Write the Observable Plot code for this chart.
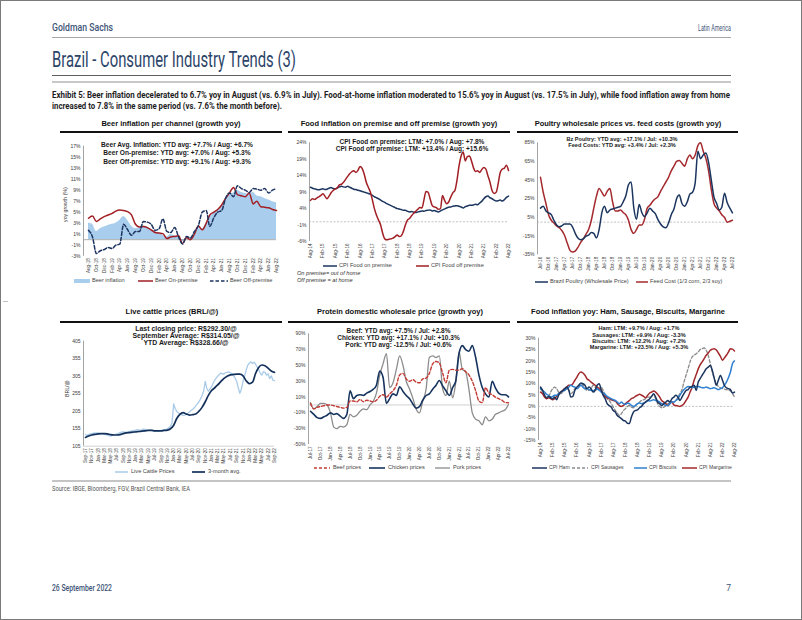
<!DOCTYPE html>
<html><head><meta charset="utf-8">
<script src="https://cdn.jsdelivr.net/npm/d3@7"></script>
<script src="https://cdn.jsdelivr.net/npm/@observablehq/plot@0.6"></script>
<style>
html,body{margin:0;padding:0;background:#fff;}
#page{position:relative;width:802px;height:620px;overflow:hidden;background:#fff;}
.t{position:absolute;white-space:nowrap;line-height:1;}
</style></head>
<body><div id="page"></div>
<script>
// ---------------- DATA ----------------
// Chart 1: Beer inflation per channel (monthly from Aug-18)
const beerStart = "Aug-18";
const beerInflation = [3.0,2.8,1.5,2.0,2.3,2.6,2.8,3.0,3.5,4.2,3.5,2.5,2.0,2.2,2.5,2.3,1.8,1.5,1.2,0.8,0.5,1.0,0.7,0.6,-0.4,0.2,0.0,0.8,2.0,2.0,3.0,4.0,4.8,5.2,6.0,7.0,8.0,8.5,9.0,8.6,8.4,8.2,8.6,8.0,7.8,7.5,7.2,6.9,6.7];
const beerOnPremise = [3.9,4.3,3.3,3.8,4.2,4.5,4.8,5.2,5.4,5.3,5.1,4.5,2.8,2.3,2.4,2.2,1.8,1.3,1.2,1.1,0.2,0.5,0.6,0.7,-0.7,0.4,0.0,1.0,2.5,1.8,3.0,4.5,5.0,5.5,6.3,7.5,8.5,9.5,8.2,8.0,7.8,8.5,6.5,7.0,6.0,5.9,5.8,5.5,5.3];
const beerOffPremise = [1.7,0.5,-2.5,-2.0,-1.8,-1.4,-1.6,-1.0,-0.8,2.8,1.8,0.8,1.5,1.5,3.3,3.2,2.8,1.7,2.0,3.8,1.5,1.3,2.2,0.5,-0.8,0.6,0.3,1.5,2.5,5.0,5.3,2.4,4.0,5.0,5.3,7.5,8.5,7.8,9.8,9.3,9.0,8.6,9.3,9.2,9.0,9.3,8.5,9.0,9.3];
const beerYTicks = [-3,-1,1,3,5,7,9,11,13,15,17];
const beerXTicks = ["Aug-18","Oct-18","Dec-18","Feb-19","Apr-19","Jun-19","Aug-19","Oct-19","Dec-19","Feb-20","Apr-20","Jun-20","Aug-20","Oct-20","Dec-20","Feb-21","Apr-21","Jun-21","Aug-21","Oct-21","Dec-21","Feb-22","Apr-22","Jun-22","Aug-22"];

// Chart 2: Food inflation on/off premise (monthly from Aug-14)
const foodStart = "Aug-14";
const foodOnPremise = [10.5,10.2,10.0,9.8,9.7,9.9,10.0,9.8,9.9,10.2,10.4,10.1,10.0,10.3,10.6,10.8,10.6,10.5,10.8,10.5,10.2,9.9,9.8,9.6,9.4,9.2,9.0,8.8,8.6,8.4,8.0,7.6,7.3,7.0,6.6,6.2,5.9,5.5,5.2,4.9,4.6,4.3,4.0,3.9,3.7,3.5,3.5,3.2,3.0,3.1,2.9,2.8,3.0,3.1,3.3,3.2,3.4,3.5,3.6,3.3,3.4,3.2,3.0,3.3,3.6,3.9,4.2,4.4,4.5,4.7,4.8,4.9,4.7,4.5,4.2,4.6,4.8,5.0,5.0,5.1,5.3,5.2,5.7,6.2,7.0,7.6,7.8,7.3,7.0,6.6,6.3,6.4,6.6,6.3,6.7,7.4,7.8];
const foodOffPremise = [6.5,7.0,6.8,7.2,7.6,8.0,8.5,7.8,7.0,7.8,8.8,9.5,10.0,10.3,11.2,11.4,12.0,12.9,13.8,14.6,15.2,15.5,15.0,15.6,16.8,16.2,14.5,12.0,10.5,9.0,6.5,4.0,2.0,0.5,-1.0,-3.5,-5.2,-5.5,-5.3,-5.2,-5.0,-4.5,-4.0,-4.5,-4.3,-3.0,-1.0,0.5,1.0,1.8,2.6,3.2,3.8,4.3,4.2,6.5,9.2,9.0,7.0,5.0,4.5,4.3,3.8,4.0,8.0,6.5,5.5,6.0,7.5,8.8,9.5,12.5,17.0,20.0,21.2,18.5,19.8,20.0,18.5,16.5,15.3,15.5,15.0,15.8,16.5,16.0,14.0,12.0,9.5,8.6,9.0,11.5,15.0,16.0,16.3,17.2,15.6];
const foodYTicks = [-6,-1,4,9,14,19,24];
const foodXTicks = ["Aug-14","Feb-15","Aug-15","Feb-16","Aug-16","Feb-17","Aug-17","Feb-18","Aug-18","Feb-19","Aug-19","Feb-20","Aug-20","Feb-21","Aug-21","Feb-22","Aug-22"];

// Chart 3: Poultry vs feed costs (monthly from Jul-16)
const poultryStart = "Jul-16";
const poultryPrice = [15,17,12,10,8,2,-3,-5,-4,-2,-2,-2,-5,-12,-17,-19,-18,-15,-14,-11,-12,-17,-8,10,17,10,13,14,15,16,17,22,28,40,43,15,3,19,10,6,10,15,12,9,3,-2,-5,-6,-1,8,14,25,29,20,17,22,30,32,42,76,68,72,74,64,45,27,20,13,16,31,21,15,10];
const feedCost = [48,32,20,8,2,-1,-4,-6,-9,-14,-22,-30,-32,-31,-27,-22,-18,-13,-8,2,15,28,36,32,28,33,36,22,12,12,13,10,8,2,-8,-12,-8,-3,-3,3,15,18,22,25,27,33,38,43,48,55,60,65,66,63,60,68,72,68,72,82,85,76,68,55,35,20,15,12,8,5,0,1,2];
const poultryYTicks = [-35,-15,5,25,45,65,85];
const poultryXTicks = ["Jul-16","Oct-16","Jan-17","Apr-17","Jul-17","Oct-17","Jan-18","Apr-18","Jul-18","Oct-18","Jan-19","Apr-19","Jul-19","Oct-19","Jan-20","Apr-20","Jul-20","Oct-20","Jan-21","Apr-21","Jul-21","Oct-21","Jan-22","Apr-22","Jul-22"];

// Chart 4: Live cattle prices (semi-monthly prices and monthly 3-month average, from Sep-17)
const cattleStart = "Sep-17";
const cattlePrices = [138,136,138,140,141,142,142,143,143,142,141,140,139,138,137,135,134,136,138,139,
  140,142,144,145,146,145,145,146,147,148,149,150,151,152,151,150,152,154,153,151,
  150,151,151,150,149,148,148,149,150,151,152,153,155,158,162,172,226,212,204,200,
  197,195,193,194,196,199,203,207,210,214,220,226,232,240,250,262,290,270,262,268,
  275,285,294,300,305,310,314,311,312,315,316,317,315,312,306,300,290,272,256,268,
  290,306,322,336,342,346,341,345,340,332,324,314,308,318,316,308,312,298,306,294,292];
const cattleAvg3m = [130,134,137,139,140,141,141,140,138,137,137,138,141,143,144,145,146,147,148,149,150,150,149,149,149,150,151,155,165,185,196,201,197,194,195,197,205,216,232,250,264,272,280,290,299,305,309,310,311,311,306,292,284,288,312,330,337,335,328,320,316];
const cattleYTicks = [105,155,205,255,305,355,405];
const cattleXTicks = ["Sep-17","Nov-17","Jan-18","Mar-18","May-18","Jul-18","Sep-18","Nov-18","Jan-19","Mar-19","May-19","Jul-19","Sep-19","Nov-19","Jan-20","Mar-20","May-20","Jul-20","Sep-20","Nov-20","Jan-21","Mar-21","May-21","Jul-21","Sep-21","Nov-21","Jan-22","Mar-22","May-22","Jul-22","Sep-22"];

// Chart 5: Protein wholesale prices (monthly from Jul-17)
const proteinStart = "Jul-17";
const beefPrices = [2,-5,-3,-2,-1,0,0,-1,-2,-3,-4,-3,5,5,4,7,4,6,5,4,6,11,13,10,14,18,25,38,40,33,30,32,29,28,33,34,40,52,55,53,40,28,44,45,44,44,46,42,38,30,18,5,3,22,15,13,10,8,6,3,2.8];
const chickenPrices = [-8,-12,-16,-17,-15,-13,-10,-12,-11,-14,-17,-12,18,8,12,13,12,15,17,20,25,43,35,2,8,14,12,23,17,12,8,1,-4,-2,6,12,14,20,25,31,24,18,12,22,30,65,75,70,68,75,60,38,22,14,10,30,22,15,13,13,10.3];
const porkPrices = [3,-5,-2,2,2,0,-10,-28,-30,-27,-28,-25,-12,-15,-13,-8,-5,-6,0,5,15,38,52,65,22,28,45,62,50,30,20,8,-5,-10,5,20,60,62,60,62,20,12,30,9,28,67,45,42,20,-10,-18,-20,-25,-15,-20,-18,-12,-10,-8,-6,0.6];
const proteinYTicks = [-50,-30,-10,10,30,50,70,90];
const proteinXTicks = ["Jul-17","Oct-17","Jan-18","Apr-18","Jul-18","Oct-18","Jan-19","Apr-19","Jul-19","Oct-19","Jan-20","Apr-20","Jul-20","Oct-20","Jan-21","Apr-21","Jul-21","Oct-21","Jan-22","Apr-22","Jul-22"];

// Chart 6: CPI Ham, Sausages, Biscuits, Margarine (monthly from Aug-14)
const cpiStart = "Aug-14";
const cpiHam = [8.5,7.1,4.9,3.8,4.4,3.8,3.4,4.1,2.9,4.9,6.3,6.8,7.8,8.5,7.1,4.1,4.4,7.1,8.5,9.3,10.3,10.0,9.3,7.8,8.5,7.8,6.3,7.1,9.3,10.0,7.1,4.9,3.4,1.2,0.4,-0.3,-1.8,-2.5,-4.0,-4.7,-5.4,-6.2,-6.5,-7.4,-7.5,-4.7,-2.5,-1.8,-1.5,-0.6,0,1.2,1.9,2.6,3.4,4.4,5.6,4.1,1.9,1.2,0.4,1.2,1.9,2.6,1.9,3.4,4.1,4.9,4.1,2.6,4.1,5.6,7.0,7.4,8.5,8.8,9.3,7.0,10.7,12.2,13.7,15.1,16.6,17.3,18.0,15.8,12.2,9.3,11.5,13.7,11.5,9.3,8.2,7.8,7.4,5.9,6.3];
const cpiSausages = [7.8,6.3,4.9,3.4,4.1,6.3,7.8,8.5,7.8,6.3,5.6,6.3,7.1,7.8,7.1,5.6,6.3,7.8,8.5,9.3,10.0,9.3,7.8,7.1,7.1,7.8,9.3,8.5,7.1,7.8,8.5,7.1,4.9,3.4,2.6,1.2,-0.3,-1.8,-2.9,-4.0,-3.2,-1.8,-1.0,0,0.4,-0.3,-0.6,0.4,1.2,1.9,2.6,2.9,3.4,4.1,4.1,4.4,5.3,3.4,1.2,0,-0.6,-0.3,0.4,1.2,1.5,1.9,1.9,2.6,4.1,5.6,7.4,10.7,13.7,16.6,19.6,21.8,22.5,23.2,24.0,25.0,25.4,25.7,24.7,22.5,18.8,15.1,12.2,10.0,8.8,8.2,7.8,7.6,7.4,7.1,6.8,5.6,4.1];
const cpiBiscuits = [7.8,7.1,6.3,5.3,4.9,4.1,4.4,4.9,4.9,5.6,6.3,6.8,7.1,7.8,8.5,9.3,8.8,8.5,7.8,8.5,9.3,8.5,7.8,7.8,7.4,7.1,6.8,7.4,7.8,7.1,6.3,5.9,5.3,4.4,3.8,3.4,2.9,2.6,1.9,1.2,1.9,1.2,0.9,1.5,1.2,0.4,0,0.4,1.2,1.5,1.2,1.5,1.9,2.6,2.4,2.6,2.9,2.6,2.4,1.9,1.2,0.9,0.4,0.4,1.2,1.9,1.9,2.6,3.4,4.9,6.3,7.4,8.2,8.8,8.5,8.2,8.5,8.8,8.8,8.5,8.2,8.2,8.5,8.2,7.8,8.0,8.2,7.8,7.4,7.8,8.2,9.3,10.7,12.6,15.1,18.8,20.0];
const cpiMargarine = [6.3,5.6,4.1,3.4,3.8,3.4,2.9,3.4,4.4,5.6,6.3,7.1,7.8,8.5,9.3,9.3,10.0,11.5,12.9,14.4,15.1,14.7,13.7,12.2,11.5,10.7,10.0,9.3,8.5,7.8,7.1,5.6,4.4,3.8,3.4,2.9,2.6,2.4,1.2,0.4,0,0.4,1.2,1.9,2.6,3.4,3.8,4.4,4.9,5.3,4.9,4.4,3.8,4.9,5.9,6.3,6.8,6.3,5.3,4.1,2.6,1.9,1.2,0.4,1.2,1.9,0.6,0.4,0.2,0,0.4,1.2,2.6,4.1,6.3,8.5,11.5,14.0,16.5,18.3,19.6,21.0,22.5,23.5,24.7,25.2,25.4,24.8,23.5,22.0,20.3,21.3,22.5,23.9,25.4,25.2,24.4];
const cpiYTicks = [-15,-10,-5,0,5,10,15,20,25,30];
const cpiXTicks = ["Aug-14","Feb-15","Aug-15","Feb-16","Aug-16","Feb-17","Aug-17","Feb-18","Aug-18","Feb-19","Aug-19","Feb-20","Aug-20","Feb-21","Aug-21","Feb-22","Aug-22"];

// ---------------- HELPERS ----------------
const page = document.getElementById("page");
const FONT = '"Liberation Sans", Arial, Helvetica, sans-serif';
const COND = 'Roboto, "Liberation Sans", sans-serif';
const MONTHS = ["Jan","Feb","Mar","Apr","May","Jun","Jul","Aug","Sep","Oct","Nov","Dec"];
function parseMon(s){ const [m,y] = s.split("-"); return new Date(Date.UTC(2000 + (+y), MONTHS.indexOf(m), 1)); }
function monthly(start, vals){ const d0 = parseMon(start); return vals.map((v,i) => ({date: d3.utcMonth.offset(d0, i), value: v})); }
function semiMonthly(start, vals){ const d0 = parseMon(start); return vals.map((v,i) => ({date: d3.utcDay.offset(d3.utcMonth.offset(d0, Math.floor(i/2)), (i%2)*15), value: v})); }

function T(text, x, y, o = {}) {
  const size = o.size || 6;
  const el = document.createElement("div");
  el.className = "t";
  el.textContent = text;
  el.style.fontFamily = o.font || FONT;
  el.style.fontSize = size + "px";
  el.style.fontWeight = o.bold ? "bold" : (o.weight || "normal");
  if (o.italic) el.style.fontStyle = "italic";
  el.style.color = o.color || "#222";
  el.style.top = (y - size / 2) + "px";
  el.style.left = "0px";
  page.appendChild(el);
  const w = el.getBoundingClientRect().width;
  const sx = o.fitW ? o.fitW / w : 1;
  const ww = w * sx;
  const left = o.anchor === "middle" ? x - ww / 2 : o.anchor === "end" ? x - ww : x;
  el.style.left = left + "px";
  if (sx !== 1) { el.style.transformOrigin = "0 50%"; el.style.transform = `scaleX(${sx})`; }
  return el;
}
function TR(text, cx, cy, size, color) {
  const el = document.createElement("div");
  el.className = "t"; el.style.fontFamily = FONT; el.style.fontSize = size + "px"; el.style.color = color;
  el.textContent = text; page.appendChild(el);
  const r = el.getBoundingClientRect();
  el.style.left = (cx - r.width / 2) + "px"; el.style.top = (cy - r.height / 2) + "px";
  el.style.transform = "rotate(-90deg)";
}
function L(x1, x2, y, h, color) {
  const el = document.createElement("div");
  el.style.cssText = `position:absolute;left:${x1}px;top:${y - h/2}px;width:${x2 - x1}px;height:${h}px;background:${color};`;
  page.appendChild(el);
}
const NS = "http://www.w3.org/2000/svg";
function S(x1, x2, y, color, dash, w) {
  const svg = document.createElementNS(NS, "svg");
  const W = x2 - x1;
  svg.setAttribute("width", W); svg.setAttribute("height", 6);
  svg.style.cssText = `position:absolute;left:${x1}px;top:${y - 3}px;`;
  const ln = document.createElementNS(NS, "line");
  ln.setAttribute("x1", 0); ln.setAttribute("x2", W); ln.setAttribute("y1", 3); ln.setAttribute("y2", 3);
  ln.setAttribute("stroke", color); ln.setAttribute("stroke-width", w || 1.5);
  if (dash) ln.setAttribute("stroke-dasharray", dash);
  svg.appendChild(ln); page.appendChild(svg);
}
function SA(x1, x2, y, h, color) {
  const el = document.createElement("div");
  el.style.cssText = `position:absolute;left:${x1}px;top:${y - h/2}px;width:${x2 - x1}px;height:${h}px;background:${color};`;
  page.appendChild(el);
}

function chart(c) {
  const marginLeft = c.axisX - c.left;
  const insetLeft = c.X0 - c.axisX;
  const marginRight = c.left + c.width - c.X1;
  const marginTop = c.Y0 - c.top;
  const marginBottom = c.top + c.height - c.Y1;
  const xt = c.xLabels.map(parseMon);
  const xfmt = d => c.xLabels[xt.findIndex(t => +t === +d)];
  const xDomain = [xt[0], xt[xt.length - 1]];
  const svg = Plot.plot({
    width: c.width, height: c.height,
    marginLeft, marginRight, marginTop, marginBottom,
    x: {type: "utc", domain: xDomain, insetLeft, label: null},
    y: {domain: c.yDomain, label: null},
    style: {fontFamily: FONT, fontSize: "5px", background: "transparent", color: "#333", overflow: "visible"},
    marks: [
      ...(c.pre || []),
      Plot.ruleX([xDomain[0]], {dx: -insetLeft, stroke: "#8c8c8c", strokeWidth: 0.8}),
      Plot.axisY({ticks: c.yTicks, tickFormat: c.yFmt, tickSize: 0, tickPadding: 3, fontSize: 5, fill: "#3a3a3a", label: null}),
      Plot.axisX({ticks: xt, tickFormat: xfmt, tickRotate: -90, tickSize: 0, tickPadding: 2, fontSize: 4.6, fill: "#3a3a3a", label: null}),
      ...c.marks
    ]
  });
  svg.style.position = "absolute";
  svg.style.left = c.left + "px";
  svg.style.top = c.top + "px";
  page.appendChild(svg);
}
const pct = d => d + "%";
const NAVY = "#1b355f", RED = "#a11f24";

// ---------------- PAGE FURNITURE ----------------
T("Goldman Sachs", 52, 28, {font: COND, size: 10, fitW: 61, color: "#3d5477", weight: 500});
T("Latin America", 731, 28, {font: COND, size: 8.5, fitW: 33, color: "#3d5477", anchor: "end"});
L(52, 731, 37, 1, "#a8a8a8");
T("Brazil - Consumer Industry Trends (3)", 52, 60, {font: COND, size: 22, fitW: 244, color: "#2c4569", weight: 400});
L(52, 731, 75, 1, "#606060");
L(52, 731, 82, 2.5, "#c8c8c8");
T("Exhibit 5: Beer inflation decelerated to 6.7% yoy in August (vs. 6.9% in July). Food-at-home inflation moderated to 15.6% yoy in August (vs. 17.5% in July), while food inflation away from home", 52, 95, {font: COND, size: 9.5, bold: true, fitW: 678, color: "#1e1e1e"});
T("increased to 7.8% in the same period (vs. 7.6% the month before).", 52, 106, {font: COND, size: 9.5, bold: true, fitW: 230, color: "#1e1e1e"});
L(52, 731, 481, 2.5, "#c4c4c4");
T("Source: IBGE, Bloomberg, FGV, Brazil Central Bank, IEA", 52, 489, {font: COND, size: 6.5, fitW: 138, color: "#555"});
T("26 September 2022", 52, 588, {font: COND, size: 8.5, fitW: 60, color: "#3d5477", weight: 500});
T("7", 731, 588, {font: COND, size: 8.5, color: "#3d5477", anchor: "end"});
L(3, 8, 301, 1, "#c0c0c0");

// Chart titles
const TS = 7.5;
T("Beer inflation per channel (growth yoy)", 171, 124, {size: TS, bold: true, anchor: "middle", color: "#111"}); L(60, 282, 132, 2.2, "#111");
T("Food inflation on premise and off premise (growth yoy)", 399, 124, {size: TS, bold: true, anchor: "middle", color: "#111"}); L(288, 510, 132, 2.2, "#111");
T("Poultry wholesale prices vs. feed costs (growth yoy)", 628, 124, {size: TS, bold: true, anchor: "middle", color: "#111"}); L(517, 738, 132, 2.2, "#111");
T("Live cattle prices (BRL/@)", 172, 312, {size: TS, bold: true, anchor: "middle", color: "#111"}); L(60, 282, 322, 2.2, "#111");
T("Protein domestic wholesale price (growth yoy)", 400, 312, {size: TS, bold: true, anchor: "middle", color: "#111"}); L(288, 510, 322, 2.2, "#111");
T("Food inflation yoy: Ham, Sausage, Biscuits, Margarine", 628, 312, {size: TS, bold: true, anchor: "middle", color: "#111"}); L(517, 738, 322, 2.2, "#111");

// ---------------- CHART 1 ----------------
chart({left: 20, top: 135, width: 262, height: 140, axisX: 83, X0: 88, X1: 276, Y0: 145.7, Y1: 255.7,
  yDomain: [-3, 17], yTicks: beerYTicks, yFmt: pct, xLabels: beerXTicks,
  pre: [Plot.areaY(monthly(beerStart, beerInflation), {x: "date", y: "value", fill: "#a9cdec", curve: "monotone-x"})],
  marks: [
    Plot.ruleY([0], {stroke: "#9a9a9a", strokeWidth: 0.8}),
    Plot.lineY(monthly(beerStart, beerOnPremise), {x: "date", y: "value", stroke: RED, strokeWidth: 1.5, curve: "monotone-x"}),
    Plot.lineY(monthly(beerStart, beerOffPremise), {x: "date", y: "value", stroke: "#1d3461", strokeWidth: 1.5, strokeDasharray: "3.5,2", curve: "monotone-x"})
  ]});
TR("yoy growth (%)", 65, 205, 5.2, "#333");
T("Beer Avg. Inflation: YTD avg: +7.7% / Aug: +6.7%", 177, 145.3, {size: 6.6, bold: true, anchor: "middle", color: "#1a1a1a"});
T("Beer On-premise: YTD avg: +7.0% / Aug: +5.3%", 177, 153.6, {size: 6.6, bold: true, anchor: "middle", color: "#1a1a1a"});
T("Beer Off-premise: YTD avg: +9.1% / Aug: +9.3%", 177, 161.9, {size: 6.6, bold: true, anchor: "middle", color: "#1a1a1a"});
const LG = 5.6, LC = "#444";
SA(74, 90, 281, 4, "#a9cdec"); T("Beer inflation", 92, 281, {size: LG, color: LC});
S(138, 153, 281, RED, null, 1.5); T("Beer On-premise", 155, 281, {size: LG, color: LC});
S(210, 228, 281, "#1d3461", "3.5,2", 1.5); T("Beer Off-premise", 230, 281, {size: LG, color: LC});

// ---------------- CHART 2 ----------------
chart({left: 282, top: 135, width: 230, height: 125, axisX: 309, X0: 310, X1: 508, Y0: 142.3, Y1: 241,
  yDomain: [-6, 24], yTicks: foodYTicks, yFmt: pct, xLabels: foodXTicks,
  marks: [
    Plot.ruleY([0], {stroke: "#b4b4b4", strokeWidth: 0.8, strokeDasharray: "2,1.5"}),
    Plot.lineY(monthly(foodStart, foodOnPremise), {x: "date", y: "value", stroke: NAVY, strokeWidth: 1.5, curve: "monotone-x"}),
    Plot.lineY(monthly(foodStart, foodOffPremise), {x: "date", y: "value", stroke: RED, strokeWidth: 1.5, curve: "monotone-x"})
  ]});
T("CPI Food on premise: LTM: +7.0% / Aug: +7.8%", 412, 142.5, {size: 6.5, bold: true, anchor: "middle", color: "#1a1a1a"});
T("CPI Food off premise: LTM: +13.4% / Aug: +15.6%", 412, 149.5, {size: 6.5, bold: true, anchor: "middle", color: "#1a1a1a"});
S(323, 337, 266, NAVY, null, 1.5); T("CPI Food on premise", 339, 266, {size: LG, color: LC});
S(416, 429, 266, RED, null, 1.5); T("CPI Food off premise", 431, 266, {size: LG, color: LC});
T("On premise= out of home", 297, 273.5, {size: LG, color: "#333", italic: true});
T("Off premise = at home", 297, 281, {size: LG, color: "#333", italic: true});

// ---------------- CHART 3 ----------------
chart({left: 512, top: 135, width: 230, height: 140, axisX: 537, X0: 540, X1: 732, Y0: 142.3, Y1: 254.3,
  yDomain: [-35, 85], yTicks: poultryYTicks, yFmt: pct, xLabels: poultryXTicks,
  marks: [
    Plot.ruleY([0], {stroke: "#b4b4b4", strokeWidth: 0.8, strokeDasharray: "2,1.5"}),
    Plot.lineY(monthly(poultryStart, feedCost), {x: "date", y: "value", stroke: "#a52a2e", strokeWidth: 1.5, curve: "monotone-x"}),
    Plot.lineY(monthly(poultryStart, poultryPrice), {x: "date", y: "value", stroke: NAVY, strokeWidth: 1.5, curve: "monotone-x"})
  ]});
T("Bz Poultry: YTD avg: +17.1% / Jul: +10.3%", 622, 139.3, {size: 5.6, bold: true, anchor: "middle", color: "#1a1a1a"});
T("Feed Costs: YTD avg: +3.4% / Jul: +2.3%", 622, 146, {size: 5.6, bold: true, anchor: "middle", color: "#1a1a1a"});
S(535, 548, 282, NAVY, null, 1.5); T("Brazil Poultry (Wholesale Price)", 550, 282, {size: LG, color: LC});
S(636, 648, 282, "#a52a2e", null, 1.5); T("Feed Cost (1/3 corn, 2/3 soy)", 650, 282, {size: LG, color: LC});

// ---------------- CHART 4 ----------------
chart({left: 20, top: 330, width: 262, height: 135, axisX: 83, X0: 85, X1: 274, Y0: 340.7, Y1: 445.7,
  yDomain: [105, 405], yTicks: cattleYTicks, yFmt: d => d, xLabels: cattleXTicks,
  marks: [
    Plot.ruleY([105], {stroke: "#c8c8c8", strokeWidth: 0.8}),
    Plot.lineY(semiMonthly(cattleStart, cattlePrices), {x: "date", y: "value", stroke: "#a9cbe8", strokeWidth: 1.3}),
    Plot.lineY(monthly(cattleStart, cattleAvg3m), {x: "date", y: "value", stroke: "#13305a", strokeWidth: 1.7, curve: "monotone-x"})
  ]});
TR("BRL/@", 67, 389, 5.2, "#333");
T("Last closing price: R$292.30/@", 186, 329.3, {size: 6.9, bold: true, anchor: "middle", color: "#1a1a1a"});
T("September Average: R$314.05/@", 186, 336.4, {size: 6.9, bold: true, anchor: "middle", color: "#1a1a1a"});
T("YTD Average: R$328.66/@", 186, 343.5, {size: 6.9, bold: true, anchor: "middle", color: "#1a1a1a"});
S(115, 128, 472, "#a9cbe8", null, 1.5); T("Live Cattle Prices", 131, 472, {size: LG, color: LC});
S(192, 205, 472, "#13305a", null, 1.7); T("3-month avg.", 208, 472, {size: LG, color: LC});

// ---------------- CHART 5 ----------------
chart({left: 282, top: 325, width: 230, height: 137, axisX: 308, X0: 310, X1: 508, Y0: 333.3, Y1: 444,
  yDomain: [-50, 90], yTicks: proteinYTicks, yFmt: pct, xLabels: proteinXTicks,
  marks: [
    Plot.ruleY([0], {stroke: "#c4c4c4", strokeWidth: 0.8}),
    Plot.lineY(monthly(proteinStart, porkPrices), {x: "date", y: "value", stroke: "#8c8c8c", strokeWidth: 1.3, curve: "monotone-x"}),
    Plot.lineY(monthly(proteinStart, chickenPrices), {x: "date", y: "value", stroke: "#17345f", strokeWidth: 1.6, curve: "monotone-x"}),
    Plot.lineY(monthly(proteinStart, beefPrices), {x: "date", y: "value", stroke: "#c23b35", strokeWidth: 1.4, strokeDasharray: "3,2", curve: "monotone-x"})
  ]});
T("Beef: YTD avg: +7.5% / Jul: +2.8%", 398.5, 331, {size: 6.5, bold: true, anchor: "middle", color: "#1a1a1a"});
T("Chicken: YTD avg: +17.1% / Jul: +10.3%", 398.5, 338.3, {size: 6.5, bold: true, anchor: "middle", color: "#1a1a1a"});
T("Pork: YTD avg: -12.5% / Jul: +0.6%", 398.5, 345.6, {size: 6.5, bold: true, anchor: "middle", color: "#1a1a1a"});
S(314, 330, 468, "#c23b35", "3,2", 1.4); T("Beef prices", 333, 468, {size: LG, color: LC});
S(369, 385, 468, "#17345f", null, 1.6); T("Chicken prices", 388, 468, {size: LG, color: LC});
S(435, 450, 468, "#8c8c8c", null, 1.3); T("Pork prices", 453, 468, {size: LG, color: LC});

// ---------------- CHART 6 ----------------
chart({left: 512, top: 325, width: 230, height: 137, axisX: 538, X0: 540, X1: 734, Y0: 337.7, Y1: 440,
  yDomain: [-15, 30], yTicks: cpiYTicks, yFmt: pct, xLabels: cpiXTicks,
  marks: [
    Plot.ruleY([0], {stroke: "#b4b4b4", strokeWidth: 0.8, strokeDasharray: "2,1.5"}),
    Plot.lineY(monthly(cpiStart, cpiSausages), {x: "date", y: "value", stroke: "#8a8a8a", strokeWidth: 1.3, strokeDasharray: "3,2", curve: "monotone-x"}),
    Plot.lineY(monthly(cpiStart, cpiMargarine), {x: "date", y: "value", stroke: "#a3282b", strokeWidth: 1.5, curve: "monotone-x"}),
    Plot.lineY(monthly(cpiStart, cpiBiscuits), {x: "date", y: "value", stroke: "#2f80d0", strokeWidth: 1.5, curve: "monotone-x"}),
    Plot.lineY(monthly(cpiStart, cpiHam), {x: "date", y: "value", stroke: NAVY, strokeWidth: 1.5, curve: "monotone-x"})
  ]});
T("Ham: LTM: +9.7% / Aug: +1.7%", 639, 329, {size: 5.6, bold: true, anchor: "middle", color: "#1a1a1a"});
T("Sausages: LTM: +9.9% / Aug: -3.3%", 639, 335.3, {size: 5.6, bold: true, anchor: "middle", color: "#1a1a1a"});
T("Biscuits: LTM: +12.2% / Aug: +7.2%", 639, 341.6, {size: 5.6, bold: true, anchor: "middle", color: "#1a1a1a"});
T("Margarine: LTM: +23.5% / Aug: +5.3%", 639, 347.9, {size: 5.6, bold: true, anchor: "middle", color: "#1a1a1a"});
const LG6 = 5.1;
S(532, 547, 468, NAVY, null, 1.5); T("CPI Ham", 549, 468, {size: LG6, color: LC});
S(572, 588, 468, "#8a8a8a", "3,2", 1.3); T("CPI Sausages", 591, 468, {size: LG6, color: LC});
S(634, 647, 468, "#2f80d0", null, 1.5); T("CPI Biscuits", 649, 468, {size: LG6, color: LC});
S(682, 697, 468, "#a3282b", null, 1.5); T("CPI Margarine", 699, 468, {size: LG6, color: LC});

// page frame
const fr = document.createElement("div");
fr.style.cssText = "position:absolute;left:0;top:0;width:800px;height:618px;border:1px solid #7a7a7a;pointer-events:none;";
page.appendChild(fr);
</script>
</body></html>
